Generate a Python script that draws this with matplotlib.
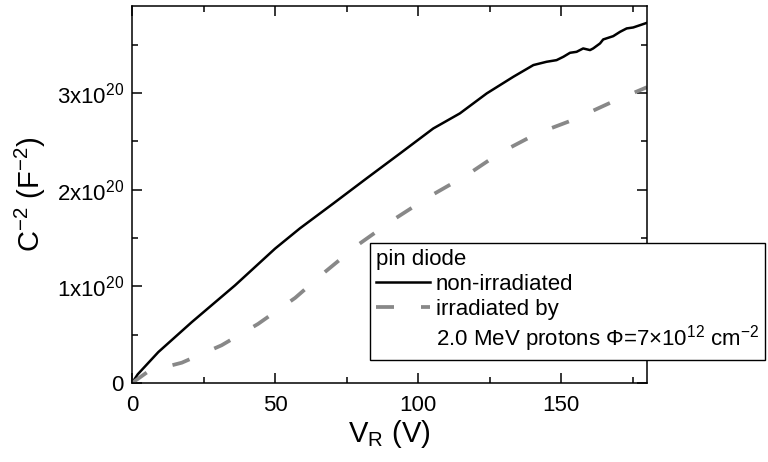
import matplotlib
matplotlib.use('Agg')
import matplotlib.pyplot as plt
from matplotlib.ticker import MultipleLocator
from matplotlib.lines import Line2D

plt.rcParams['font.family'] = ['Liberation Sans', 'DejaVu Sans']
plt.rcParams['mathtext.fontset'] = 'custom'
plt.rcParams['mathtext.rm'] = 'Liberation Sans'
plt.rcParams['mathtext.it'] = 'Liberation Sans'
plt.rcParams['mathtext.default'] = 'regular'

# non-irradiated pin diode, C^-2 in units of 1e20 F^-2
v_non = [0, 2, 9.2, 20.9, 36.0, 50.0, 58.7, 70.4, 82.0, 93.7, 105.3, 114.6, 124.0,
         133.3, 140.3, 144.9, 148.4, 150.8, 153.1, 155.4, 157.7, 160.1, 161.2,
         163.6, 164.7, 168.2, 170.6, 172.9, 175.2, 177.6, 180.0]
c_non = [0, 0.09, 0.32, 0.63, 1.01, 1.39, 1.60, 1.858, 2.117, 2.375, 2.633, 2.789, 2.996,
         3.168, 3.289, 3.323, 3.340, 3.375, 3.416, 3.426, 3.461, 3.444, 3.461,
         3.513, 3.554, 3.588, 3.633, 3.668, 3.678, 3.702, 3.726]

# irradiated by 2.0 MeV protons
v_irr = [0, 5.7, 17.4, 31.3, 44.0, 57.0, 67.5, 79.0, 91.4, 104.0, 117.0, 128.6,
         141.5, 154.0, 168.0, 180.0]
c_irr = [0, 0.12, 0.21, 0.39, 0.61, 0.88, 1.15, 1.43, 1.69, 1.93, 2.15, 2.38,
         2.58, 2.72, 2.91, 3.06]

ytick_vals = [0, 1e20, 2e20, 3e20]
ytick_labels = ['0', '1x10$^{20}$', '2x10$^{20}$', '3x10$^{20}$']

dash = (0, (4.8, 7.2))

fig = plt.figure(figsize=(7.68, 4.62), dpi=100)
ax = fig.add_axes([0.1719, 0.171, 0.6705, 0.816])

ax.plot(v_non, [c * 1e20 for c in c_non], color='black', lw=1.8)
ax.plot(v_irr, [c * 1e20 for c in c_irr], color='#888888', lw=2.7, linestyle=dash)

ax.set_xlim(0, 180)
ax.set_ylim(0, 3.9e20)
ax.set_xticks([0, 50, 100, 150])
ax.xaxis.set_minor_locator(MultipleLocator(25))
ax.set_yticks(ytick_vals)
ax.set_yticklabels(ytick_labels)
ax.yaxis.set_minor_locator(MultipleLocator(0.5e20))

ax.tick_params(which='both', direction='in', top=True, right=True,
               labelsize=16, width=1.1)
ax.tick_params(which='major', length=7)
ax.tick_params(which='minor', length=4)
ax.tick_params(axis='x', which='major', pad=9)
ax.tick_params(axis='y', which='major', pad=6)
for s in ax.spines.values():
    s.set_linewidth(1.1)

ax.set_xlabel('V$_R$ (V)', fontsize=21, labelpad=1)
ax.set_ylabel('C$^{-2}$ (F$^{-2}$)', fontsize=21, labelpad=6)

handles = [Line2D([], [], color='black', lw=1.8),
           Line2D([], [], color='#888888', lw=2.7, linestyle=dash),
           Line2D([], [], color='none')]
labels = ['non-irradiated', 'irradiated by',
          '2.0 MeV protons Φ=7×10$^{12}$ cm$^{-2}$']
leg = fig.legend(handles, labels, title='pin diode', loc='upper left',
                 bbox_to_anchor=(0.482, 0.474), bbox_transform=fig.transFigure,
                 borderaxespad=0, fontsize=16, title_fontsize=16,
                 alignment='left', fancybox=False, framealpha=1,
                 edgecolor='black', handlelength=2.45, handletextpad=0.25,
                 labelspacing=0.18, borderpad=0.25)
leg.get_frame().set_linewidth(1.0)

plt.savefig('out.png', dpi=100)
